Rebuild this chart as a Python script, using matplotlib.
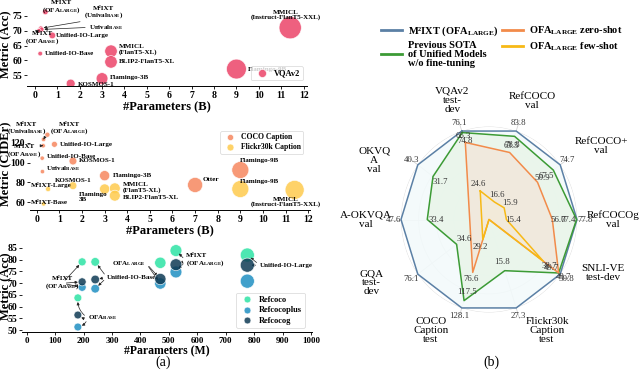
import numpy as np
import matplotlib
matplotlib.use("Agg")
import matplotlib.pyplot as plt
from matplotlib.lines import Line2D

plt.rcParams['font.family'] = ['Liberation Serif', 'DejaVu Serif']
plt.rcParams['mathtext.fontset'] = 'custom'
plt.rcParams['mathtext.rm'] = 'Liberation Serif:bold'
plt.rcParams['mathtext.it'] = 'Liberation Serif:italic:bold'
plt.rcParams['mathtext.bf'] = 'Liberation Serif:bold'

SL = r"$_{\rm LARGE}$"
SB = r"$_{\rm BASE}$"

# ---------------- (a) top: VQAv2 ----------------
vqa_names = ["M²IXT\n(OFA" + SL + ")", "M²IXT\n(Unival" + SB + ")", "Unival" + SB,
             "M²IXT\n(OFA" + SB + ")", "Unified-IO-Large", "Unified-IO-Base",
             "MMICL\n(FlanT5-XL)", "BLIP2-FlanT5-XL", "Flamingo-3B", "KOSMOS-1",
             "Flamingo-9B", "MMICL\n(Instruct-FlanT5-XXL)"]
vqa_params = [0.47, 0.27, 0.30, 0.18, 0.78, 0.24, 3.40, 3.40, 3.00, 1.60, 9.00, 11.40]
vqa_acc = [76.3, 70.8, 70.4, 70.0, 68.4, 62.3, 63.1, 59.5, 53.9, 52.2, 57.1, 71.0]

# ---------------- (a) middle: captioning ----------------
coco_names = ["M²IXT\n(OFA" + SL + ")", "M²IXT\n(Unival" + SB + ")", "M²IXT\n(OFA" + SB + ")",
              "Unified-IO-Large", "Unified-IO-Base", "KOSMOS-1", "Unival" + SB,
              "Flamingo-3B", "Flamingo-9B", "Otter"]
coco_params = [0.47, 0.30, 0.28, 0.78, 0.24, 1.60, 0.25, 3.00, 9.00, 7.00]
coco_cider = [128.1, 123.4, 117.0, 118.4, 104.4, 101.5, 90.8, 86.7, 92.4, 77.3]

flickr_names = ["M²IXT-Large", "KOSMOS-1", "Flamingo\n3B", "MMICL\n(FlanT5-XL)",
                "BLIP2-FlanT5-XL", "M²IXT-Base", "Flamingo-9B", "MMICL\n(Instruct-FlanT5-XXL)"]
flickr_params = [0.50, 1.60, 3.00, 3.45, 3.45, 0.30, 9.00, 11.40]
flickr_cider = [73.2, 76.6, 73.2, 73.9, 66.5, 58.2, 73.2, 72.3]

# ---------------- (a) bottom: referring expressions ----------------
ref_names = ["OFA" + SB, "M²IXT\n(OFA" + SB + ")", "Unified-IO-Base",
             "OFA" + SL, "M²IXT\n(OFA" + SL + ")", "Unified-IO-Large"]
ref_params_m = [180, 195, 241, 470, 525, 776]
refcoco = [63.7, 79.0, 79.0, 78.6, 83.8, 81.9]
refcocoplus = [51.3, 68.2, 67.6, 69.8, 74.7, 70.8]
refcocog = [56.4, 70.5, 71.5, 71.7, 77.8, 77.6]

# ---------------- (b) radar ----------------
radar_cats = ["VQAv2\ntest-\ndev", "RefCOCO\nval", "RefCOCO+\nval", "RefCOCOg\nval",
              "SNLI-VE\ntest-dev", "Flickr30k\nCaption\ntest", "COCO\nCaption\ntest",
              "GQA\ntest-\ndev", "A-OKVQA\nval", "OKVQ\nA\nval"]
m2ixt_vals = [76.1, 83.8, 74.7, 77.8, 50.8, 27.3, 128.1, 76.1, 47.6, 40.3]
sota_vals = [74.8, 78.8, 67.5, 77.4, 49.7, 15.8, 117.5, 34.6, 33.4, 31.7]
zero_vals = [66.3, 63.5, 50.9, 56.0, 49.7, 0.0, 76.6, None, None, None]
few_vals = [24.6, 16.6, 15.9, 15.4, 38.7, 0.0, 29.2, None, None, None]
series_names = ["M²IXT (OFA" + SL + ")", "Previous SOTA\nof Unified Models\nw/o fine-tuning",
                "OFA" + SL + " zero-shot", "OFA" + SL + " few-shot"]

# ---------------- styling ----------------
C_VQA = "#ec4469"
C_COCO = "#f6875f"
C_FLK = "#fecb4e"
C_RC = "#2ee3a5"
C_RCP = "#1f8fc2"
C_RCG = "#0f3b55"
C_BLUE, C_GREEN, C_ORANGE, C_YELLOW = "#5b80a5", "#3c9b35", "#f28b4a", "#f7b916"

W, H = 640, 382
fig = plt.figure(figsize=(6.4, 3.82), dpi=100)


def px_axes(l, t, r, b, **kw):
    return fig.add_axes([l / W, 1 - b / H, (r - l) / W, (b - t) / H], **kw)


def style_axes(ax, ylab, ylab_px, left_px, width_px):
    for s in ["top", "right", "left"]:
        ax.spines[s].set_visible(False)
    ax.spines["bottom"].set_linewidth(0.7)
    ax.tick_params(axis="both", length=2, width=0.6, labelsize=7, pad=1.5)
    for lab in ax.get_xticklabels() + ax.get_yticklabels():
        lab.set_fontweight("bold")
    ax.set_ylabel(ylab, fontsize=9, fontweight="bold")
    ax.yaxis.set_label_coords((ylab_px - left_px) / width_px, 0.5)
    ax.yaxis.label.set_verticalalignment("center")


def legend_style(lg):
    lg.get_frame().set_linewidth(0.5)
    lg.get_frame().set_edgecolor("#cccccc")
    for t in lg.get_texts():
        t.set_fontweight("bold")


def annotate(ax, text, xy, xytext, ha="left", arrow=False, relpos=(0, 0.5), rad=0.0):
    ap = None
    if arrow:
        ap = dict(arrowstyle="-|>", lw=0.5, color="#222222", mutation_scale=4,
                  relpos=relpos, shrinkA=0.5, shrinkB=2,
                  connectionstyle="arc3,rad=%s" % rad)
    ax.annotate(text, xy=xy, xytext=xytext, ha=ha, va="center", fontsize=5,
                fontweight="bold", arrowprops=ap, annotation_clip=False,
                linespacing=1.0)


def psize_b(p, k=22):
    return [k * v + 6 for v in p]


# ---- panel 1
ax1 = px_axes(27, 3, 307, 86)
ax1.scatter(vqa_params, vqa_acc, s=psize_b(vqa_params), color=C_VQA, alpha=0.85,
            edgecolors="white", linewidths=0.5, label="VQAv2", zorder=3)
ax1.set_xlim(-0.35, 12.15)
ax1.set_ylim(51.4, 79.3)
ax1.set_xticks(range(0, 13))
ax1.set_yticks([55, 60, 65, 70, 75])
style_axes(ax1, "Metric (Acc)", 5, 27, 280)
ax1.set_xlabel("#Parameters (B)", fontsize=9, fontweight="bold", labelpad=1)
vqa_txt = [(1.19, 77.9), (3.05, 75.9), (2.4, 71.1), (0.34, 67.3), (0.95, 68.4), (0.45, 62.3),
           (3.75, 63.8), (3.75, 59.5), (3.35, 54.1), (1.9, 51.9), (9.5, 57.1), (11.2, 75.3)]
vqa_ha = ["center", "center", "left", "center", "left", "left", "left", "left", "left",
          "left", "left", "center"]
vqa_arr = [False, True, True, True, False, False, False, False, False, False, False, False]
vqa_rel = [(0, 0), (0.1, 0.0), (0, 0.5), (0.3, 1.0)] + [(0, 0.5)] * 8
for i, nm in enumerate(vqa_names):
    annotate(ax1, nm, (vqa_params[i], vqa_acc[i]), vqa_txt[i], vqa_ha[i], vqa_arr[i], vqa_rel[i])
lg = ax1.legend(loc="lower right", fontsize=6, frameon=True, borderpad=0.35,
                handletextpad=0.4, markerscale=0.5, bbox_to_anchor=(1.0, 0.02))
legend_style(lg)

# ---- panel 2
ax2 = px_axes(30, 118, 310, 210)
ax2.scatter(coco_params, coco_cider, s=psize_b(coco_params, 16), color=C_COCO, alpha=0.85,
            edgecolors="white", linewidths=0.5, label="COCO Caption", zorder=3)
ax2.scatter(flickr_params, flickr_cider, s=psize_b(flickr_params, 16), color=C_FLK, alpha=0.85,
            edgecolors="white", linewidths=0.5, label="Flickr30k Caption", zorder=3)
ax2.set_xlim(-0.3, 12.08)
ax2.set_ylim(52, 145)
ax2.set_xticks(range(0, 13))
ax2.set_yticks([60, 80, 100, 120])
style_axes(ax2, "Metric (CIDEr)", 5, 30, 280)
ax2.set_xlabel("#Parameters (B)", fontsize=9, fontweight="bold", labelpad=1)
coco_txt = [(1.45, 134), (-0.45, 134), (-0.55, 111), (1.0, 118.4), (0.45, 106.3), (1.85, 102.5),
            (0.42, 93.5), (3.35, 86.7), (9.0, 102.0), (7.35, 83.0)]
coco_ha = ["center", "center", "center", "left", "left", "left", "left", "left", "left", "left"]
coco_arr = [False, True, True] + [False] * 7
coco_rel = [(0, 0.5), (1.0, 0.1), (1.0, 0.9)] + [(0, 0.5)] * 7
for i, nm in enumerate(coco_names):
    annotate(ax2, nm, (coco_params[i], coco_cider[i]), coco_txt[i], coco_ha[i], coco_arr[i], coco_rel[i])
flk_txt = [(-0.25, 77.0), (1.6, 81.5), (1.85, 65.5), (3.8, 74.5), (3.8, 64.3), (-0.25, 59.9),
           (9.0, 81.3), (11.0, 60.0)]
flk_ha = ["left", "center", "left", "left", "left", "left", "left", "center"]
for i, nm in enumerate(flickr_names):
    annotate(ax2, nm, (flickr_params[i], flickr_cider[i]), flk_txt[i], flk_ha[i], False)
lg = ax2.legend(loc="upper right", fontsize=5.5, frameon=True, borderpad=0.3,
                handletextpad=0.4, labelspacing=0.25, markerscale=0.5, bbox_to_anchor=(0.99, 0.9))
legend_style(lg)

# ---- panel 3
ax3 = px_axes(22, 240, 312, 331.7)
sz3 = [0.12 * p + 10 for p in ref_params_m]
ax3.scatter(ref_params_m, refcoco, s=sz3, color=C_RC, alpha=0.85, edgecolors="white",
            linewidths=0.5, label="Refcoco", zorder=3)
ax3.scatter(ref_params_m, refcocoplus, s=sz3, color=C_RCP, alpha=0.85, edgecolors="white",
            linewidths=0.5, label="Refcocoplus", zorder=3)
ax3.scatter(ref_params_m, refcocog, s=sz3, color=C_RCG, alpha=0.85, edgecolors="white",
            linewidths=0.5, label="Refcocog", zorder=4)
ax3.set_xlim(-16.5, 1003.5)
ax3.set_ylim(49.3, 88.3)
ax3.set_xticks(range(0, 1001, 100))
ax3.set_yticks(range(50, 86, 5))
style_axes(ax3, "Metric (Acc)", 5, 22, 290)
ax3.tick_params(axis="x", labelsize=6.5)
ax3.set_xlabel("#Parameters (M)", fontsize=8.5, fontweight="bold", labelpad=0.5)

ref_txt = [(215, 55.2), (125, 69.9), (282, 72.4), (420, 78.4), (560, 79.5), (820, 77.6)]
ref_ha = ["left", "center", "left", "right", "left", "left"]
ref_targets = [[0, 1, 2], [0, 1, 2], [0, 1, 2], [1, 2], [0, 1, 2], [0, 1]]
series3 = [refcoco, refcocog, refcocoplus]
for i, nm in enumerate(ref_names):
    annotate(ax3, nm, (ref_params_m[i], refcoco[i]), ref_txt[i], ref_ha[i], False)
    for j in ref_targets[i]:
        rad = -0.3 if i == 0 else 0.0
        ax3.annotate("", xy=(ref_params_m[i], series3[j][i]), xytext=ref_txt[i],
                     arrowprops=dict(arrowstyle="-|>", lw=0.5, color="#222222",
                                     mutation_scale=4, shrinkA=3, shrinkB=3,
                                     connectionstyle="arc3,rad=%s" % rad),
                     annotation_clip=False)
lg = ax3.legend(loc="lower right", fontsize=6, frameon=True, borderpad=0.35,
                handletextpad=0.4, labelspacing=0.3, markerscale=0.6, bbox_to_anchor=(0.99, 0.0))
legend_style(lg)

fig.text(163 / W, 1 - 362 / H, "(a)", ha="center", va="center", fontsize=10)
fig.text(491 / W, 1 - 362 / H, "(b)", ha="center", va="center", fontsize=10)

# ---- radar
cx, cy, rx, ry = 489, 219.5, 88, 93
axr = px_axes(cx - rx, cy - ry, cx + rx, cy + ry, projection="polar")
axr.set_aspect("auto")
axr.set_ylim(0, 1)
axr.set_xticks([])
axr.set_yticks([])
axr.grid(False)
axr.spines["polar"].set_visible(False)
axr.patch.set_alpha(0)

n = len(radar_cats)
ang = np.deg2rad(108 - 36 * np.arange(n))
ring_t = np.linspace(0, 2 * np.pi, 300)
for rr in [0.2, 0.4, 0.6, 0.8, 1.0]:
    axr.plot(ring_t, [rr] * len(ring_t), color="#dcdcdc", lw=0.6, zorder=1)
for a in ang:
    axr.plot([a, a], [0, 1.12], color="#d2d2d2", lw=0.6, zorder=1, clip_on=False)


def norm(vals):
    pts = [(a, v / m) for a, v, m in zip(ang, vals, m2ixt_vals) if v is not None]
    return [p[0] for p in pts], [p[1] for p in pts]


series = [(m2ixt_vals, C_BLUE, "#f3fafb", 0.09), (sota_vals, C_GREEN, "#e9f5ea", -0.1),
          (zero_vals, C_ORANGE, "#f1e8dc", 0.07), (few_vals, C_YELLOW, "#f7efd2", 0.08)]
for k, (vals, col, fillc, off) in enumerate(series):
    t, r = norm(vals)
    tc, rc = t + [t[0]], r + [r[0]]
    axr.fill(tc, rc, color=fillc, alpha=0.9 if k < 3 else 0.3, zorder=2 + k, lw=0)
    axr.plot(tc, rc, color=col, lw=1.1, zorder=6 + k, clip_on=False)
    for v, a, m in zip(vals, ang, m2ixt_vals):
        if v is None or v == 0:
            continue
        axr.text(a, v / m + off, "%.1f" % v, fontsize=6.3, ha="center", va="center",
                 color="#333333", zorder=12, clip_on=False)

lab_r = [1.35, 1.37, 1.5, 1.41, 1.42, 1.36, 1.36, 1.5, 1.4, 1.45]
lab_nudge = [0, -3, -4, 0, 12, 11, -11, -9, 0, 10]
for i, c in enumerate(radar_cats):
    axr.text(ang[i] + np.deg2rad(lab_nudge[i]), lab_r[i], c, ha="center", va="center",
             fontsize=8, linespacing=1.0, clip_on=False)

handles = [Line2D([], [], color=c, lw=2) for c in [C_BLUE, C_GREEN, C_ORANGE, C_YELLOW]]
leg = fig.legend(handles, series_names, loc="upper left", bbox_to_anchor=(372 / W, 1 - 15 / H),
                 ncol=2, frameon=False, fontsize=7.5, handlelength=2.0, columnspacing=0.3,
                 handletextpad=0.6, labelspacing=0.3)
for t in leg.get_texts():
    t.set_fontweight("bold")
    t.set_linespacing(1.0)

fig.savefig("out.png", dpi=100)
